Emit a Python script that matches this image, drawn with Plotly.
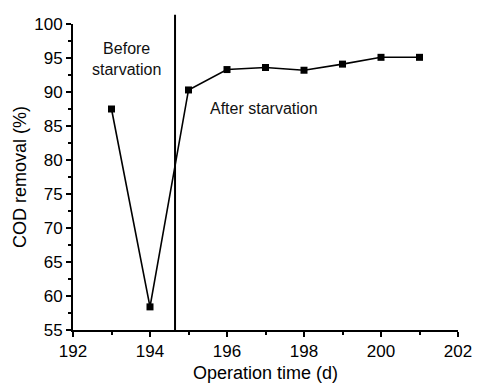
import plotly.graph_objects as go

days = [193, 194, 195, 196, 197, 198, 199, 200, 201]
cod_removal = [87.5, 58.4, 90.3, 93.3, 93.6, 93.2, 94.1, 95.1, 95.1]
starvation_day = 194.65

fig = go.Figure()
fig.add_trace(go.Scatter(
    x=days, y=cod_removal, mode="lines+markers",
    line=dict(color="black", width=1.6),
    marker=dict(symbol="square", size=7, color="black"),
    showlegend=False,
))
fig.add_shape(type="line", xref="x", yref="paper", x0=starvation_day, x1=starvation_day,
              y0=0, y1=1.03, line=dict(color="black", width=2))
fig.add_annotation(x=193.4, y=94.8, xref="x", yref="y", text="Before<br>starvation",
                   showarrow=False, font=dict(size=16, color="#111"))
fig.add_annotation(x=195.5, y=87.6, xref="x", yref="y", text="After starvation",
                   showarrow=False, xanchor="left", font=dict(size=16, color="#111"))

axis_common = dict(showline=True, linecolor="black", linewidth=2, ticks="outside",
                   tickwidth=2, ticklen=5, tickcolor="black", showgrid=False,
                   zeroline=False, tickfont=dict(size=17, color="black"),
                   title_font=dict(size=18, color="black"), automargin=False)
fig.update_xaxes(range=[192, 202], dtick=2, tick0=192,
                 minor=dict(ticks="outside", dtick=1, ticklen=3, tickwidth=2, tickcolor="black"),
                 title_text="Operation time (d)", title_standoff=6, **axis_common)
fig.update_yaxes(range=[55, 100], dtick=5, tick0=55,
                 minor=dict(ticks="outside", dtick=2.5, ticklen=3, tickwidth=2, tickcolor="black"),
                 title_text="COD removal (%)", title_standoff=3, **axis_common)
fig.update_layout(width=479, height=385, margin=dict(l=73, r=21, t=24, b=55),
                  plot_bgcolor="white", paper_bgcolor="white",
                  font=dict(family="Liberation Sans, Arial", color="black"))
fig.write_html("out.html")
